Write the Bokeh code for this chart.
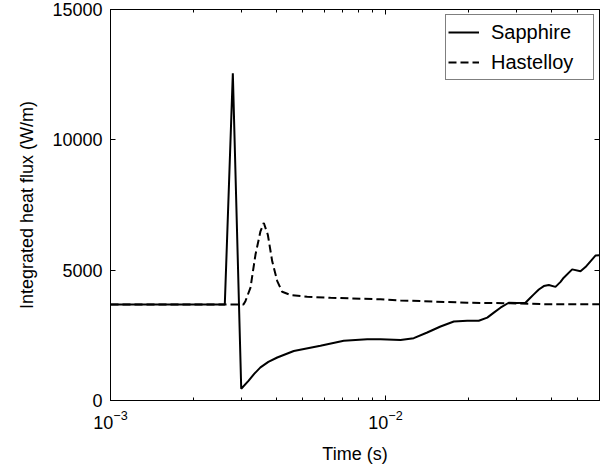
from bokeh.plotting import figure
from bokeh.models import (Range1d, LogAxis, LinearAxis, FixedTicker, Legend, LegendItem,
                          LogTickFormatter, CustomLabelingPolicy)
from bokeh.embed import file_html
from bokeh.resources import INLINE

# ---- data ----
sapphire_t = [1.0e-3, 2.604e-3, 2.785e-3, 2.988e-3, 3.18e-3, 3.33e-3, 3.51e-3, 3.75e-3,
              4.04e-3, 4.64e-3, 5.8e-3, 7.05e-3, 8.58e-3, 9.59e-3, 1.134e-2, 1.267e-2,
              1.418e-2, 1.585e-2, 1.772e-2, 1.982e-2, 2.183e-2, 2.344e-2, 2.477e-2, 2.618e-2,
              2.806e-2, 3.013e-2, 3.228e-2, 3.35e-2, 3.461e-2, 3.61e-2, 3.764e-2, 3.926e-2,
              4.150e-2, 4.33e-2, 4.448e-2, 4.773e-2, 5.117e-2, 5.335e-2, 5.563e-2, 5.8e-2,
              6.0e-2]
sapphire_q = [3680, 3680, 12550, 450, 760, 1020, 1270, 1480,
              1650, 1900, 2100, 2290, 2350, 2350, 2320, 2390,
              2610, 2840, 3030, 3060, 3060, 3180, 3370, 3560,
              3750, 3740, 3750, 3920, 4070, 4260, 4390, 4430,
              4360, 4550, 4710, 5030, 4960, 5120, 5340, 5560,
              5570]

hastelloy_t = [1.0e-3, 3.045e-3, 3.097e-3, 3.229e-3, 3.367e-3, 3.51e-3, 3.61e-3, 3.733e-3,
               3.873e-3, 4.04e-3, 4.21e-3, 4.51e-3, 5.19e-3, 6.31e-3, 9.59e-3, 1.134e-2,
               1.982e-2, 2.846e-2, 3.98e-2, 6.0e-2]
hastelloy_q = [3680, 3680, 3820, 4330, 5600, 6490, 6810, 6360,
               5340, 4580, 4170, 4050, 3980, 3940, 3880, 3840,
               3750, 3730, 3690, 3690]

x_major_ticks = [1e-3, 1e-2]
x_minor_ticks = [2e-3, 3e-3, 4e-3, 5e-3, 6e-3, 7e-3, 8e-3, 9e-3,
                 2e-2, 3e-2, 4e-2, 5e-2, 6e-2]
y_ticks = [0, 5000, 10000, 15000]
x_label = "Time (s)"
y_label = "Integrated heat flux (W/m)"
series_names = ["Sapphire", "Hastelloy"]

FONT = "Liberation Sans"
FS = "18px"

p = figure(width=616, height=469, x_axis_type="log",
           x_range=Range1d(1e-3, 0.06), y_range=Range1d(0, 15000),
           output_backend="svg", toolbar_location=None,
           min_border_left=110, min_border_right=17, min_border_top=9, min_border_bottom=69)
p.background_fill_color = "white"
p.border_fill_color = "white"
p.outline_line_color = "black"
p.outline_line_width = 1
p.xgrid.visible = False
p.ygrid.visible = False

r1 = p.line(sapphire_t, sapphire_q, line_color="black", line_width=2)
r2 = p.line(hastelloy_t, hastelloy_q, line_color="black", line_width=2, line_dash="8 4")

hide_all = "for (const i of indices) indices.unset(i)\nreturn indices"

# bottom axis
xa = p.xaxis[0]
xa.ticker = FixedTicker(ticks=x_major_ticks, minor_ticks=x_minor_ticks)
xa.formatter = LogTickFormatter()
xa.axis_label = x_label
xa.axis_label_text_font = FONT
xa.axis_label_text_font_size = FS
xa.axis_label_text_font_style = "normal"
xa.axis_label_text_color = "black"
xa.major_label_text_font = FONT
xa.major_label_text_font_size = FS
xa.major_label_text_color = "black"
xa.major_tick_in = 5
xa.major_tick_out = 0
xa.minor_tick_in = 3
xa.minor_tick_out = 0
xa.axis_line_color = "black"
xa.major_tick_line_color = "black"
xa.minor_tick_line_color = "black"
xa.major_label_standoff = 9
xa.axis_label_standoff = 12

# left axis
ya = p.yaxis[0]
ya.ticker = FixedTicker(ticks=y_ticks)
ya.axis_label = y_label
ya.axis_label_text_font = FONT
ya.axis_label_text_font_size = FS
ya.axis_label_text_font_style = "normal"
ya.axis_label_text_color = "black"
ya.major_label_text_font = FONT
ya.major_label_text_font_size = FS
ya.major_label_text_color = "black"
ya.major_tick_in = 5
ya.major_tick_out = 0
ya.major_tick_line_color = "black"
ya.minor_tick_line_color = None
ya.axis_line_color = "black"
ya.major_label_standoff = 8
ya.axis_label_standoff = 12

# mirrored ticks on top and right (no labels)
top = LogAxis(ticker=FixedTicker(ticks=x_major_ticks, minor_ticks=x_minor_ticks),
              major_label_policy=CustomLabelingPolicy(code=hide_all),
              major_label_text_font_size="1px",
              major_tick_in=5, major_tick_out=0, minor_tick_in=3, minor_tick_out=0,
              major_label_standoff=0, axis_line_color="black",
              major_tick_line_color="black", minor_tick_line_color="black")
p.add_layout(top, "above")
right = LinearAxis(ticker=FixedTicker(ticks=y_ticks),
                   major_label_policy=CustomLabelingPolicy(code=hide_all),
                   major_label_text_font_size="1px",
                   major_tick_in=5, major_tick_out=0, minor_tick_line_color=None,
                   major_label_standoff=0, axis_line_color="black",
                   major_tick_line_color="black")
p.add_layout(right, "right")

legend = Legend(items=[LegendItem(label=series_names[0], renderers=[r1]),
                       LegendItem(label=series_names[1], renderers=[r2])],
                location="top_right", margin=5,
                label_text_font=FONT, label_text_font_size="20px", label_text_color="black",
                glyph_width=31, glyph_height=30, label_height=30, label_width=100,
                label_standoff=12, padding=2, spacing=0,
                border_line_color="black", border_line_width=1,
                background_fill_color="white", background_fill_alpha=1)
p.add_layout(legend)

open("out.html", "w").write(file_html(p, INLINE))
